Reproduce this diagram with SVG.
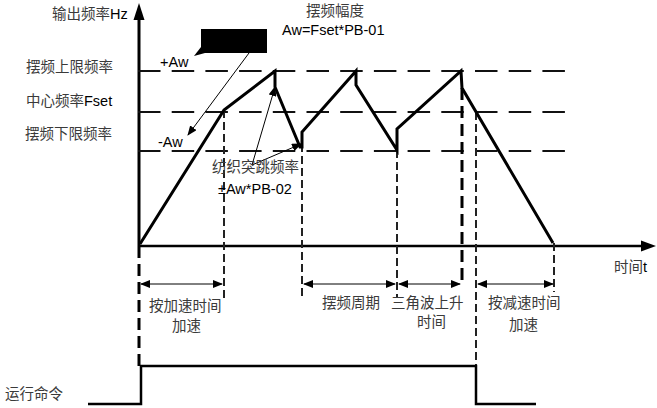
<svg xmlns="http://www.w3.org/2000/svg" width="657" height="408" viewBox="0 0 657 408">
<style>
.cn{font-family:"Noto Sans CJK SC","Liberation Sans",sans-serif;font-size:14.5px;fill:#3a3a3a}
.la{font-family:"Liberation Sans",Arial,sans-serif;font-size:14.5px;fill:#000}
.hd{fill:none;stroke:#111;stroke-width:2;stroke-dasharray:22.5 11.2}
.vthick{fill:none;stroke:#000;stroke-width:3;stroke-dasharray:12 6}
.vthin{fill:none;stroke:#222;stroke-width:2;stroke-dasharray:8 4}
.thin{fill:none;stroke:#000;stroke-width:1}
.wave{fill:none;stroke:#000;stroke-width:3;stroke-linejoin:miter}
</style>
<defs>
<marker id="ah" markerWidth="10" markerHeight="8" refX="9" refY="4" orient="auto" markerUnits="userSpaceOnUse">
<path d="M0,0 L10,4 L0,8 Z" fill="#000"/>
</marker>
<marker id="ahs" markerWidth="10" markerHeight="8" refX="1" refY="4" orient="auto" markerUnits="userSpaceOnUse">
<path d="M10,0 L0,4 L10,8 Z" fill="#000"/>
</marker>
</defs>
<g id="axes">
<line x1="139" y1="246" x2="139" y2="18" stroke="#000" stroke-width="3"/>
<path d="M139,3 L144.5,20 L133.5,20 Z" fill="#000"/>
<line x1="139" y1="246" x2="643" y2="246" stroke="#000" stroke-width="2.5"/>
<path d="M656,246 L641,240.5 L641,251.5 Z" fill="#000"/>
</g>
<g id="levels">
<line class="hd" x1="138" y1="71" x2="566" y2="71"/>
<line class="hd" x1="138" y1="112" x2="566" y2="112"/>
<line class="hd" x1="138" y1="151" x2="566" y2="151"/>
</g>
<g id="connectors">
<line class="vthick" x1="139" y1="246" x2="139" y2="366"/>
<line class="vthick" x1="462" y1="88" x2="462" y2="286"/>
<line class="vthin" x1="224" y1="110" x2="224" y2="298"/>
<line class="vthin" x1="302" y1="132" x2="302" y2="298"/>
<line class="vthin" x1="397" y1="150" x2="397" y2="298"/>
<line class="vthin" x1="476" y1="112" x2="476" y2="366"/>
<line class="vthin" x1="554" y1="243" x2="554" y2="292"/>
<line class="thin" x1="141" y1="284" x2="222" y2="284" marker-start="url(#ahs)" marker-end="url(#ah)"/>
<line class="thin" x1="304" y1="284" x2="395" y2="284" marker-start="url(#ahs)" marker-end="url(#ah)"/>
<line class="thin" x1="399" y1="284" x2="460" y2="284" marker-start="url(#ahs)" marker-end="url(#ah)"/>
<line class="thin" x1="478" y1="284" x2="553" y2="284" marker-start="url(#ahs)" marker-end="url(#ah)"/>
<line class="thin" x1="249" y1="53" x2="188" y2="135" marker-end="url(#ah)"/>
<line class="thin" x1="252" y1="165" x2="275" y2="87" marker-end="url(#ah)"/>
<line class="thin" x1="252" y1="165" x2="301" y2="144" marker-end="url(#ah)"/>
</g>
<g id="waveform">
<polyline class="wave" points="140,244 224,110 275,71 275,87 300,147 302,147 302,132 356,71 356,85 397,150 397,129 461,71 462,88 553,243"/>
</g>
<g id="callout">
<rect x="201" y="29" width="66" height="24" fill="#000"/>
<path d="M201,47 L205,53 L194,56 Z" fill="#000"/>
</g>
<g id="run-command">
<polyline points="88,404 141,404 141,366 476,366 476,404 536,404" fill="none" stroke="#000" stroke-width="2.5"/>
</g>
<g id="labels">
<text class="cn" x="52" y="19">输出频率<tspan class="la">Hz</tspan></text>
<text class="cn" x="26" y="72">摆频上限频率</text>
<text class="cn" x="26" y="106">中心频率<tspan class="la">Fset</tspan></text>
<text class="cn" x="25" y="139">摆频下限频率</text>
<text class="la" x="160" y="67">+Aw</text>
<text class="la" x="158" y="147">-Aw</text>
<text class="cn" x="306" y="16">摆频幅度</text>
<text class="la" x="282" y="35">Aw=Fset*PB-01</text>
<text class="cn" x="212" y="172">纺织突跳频率</text>
<text class="la" x="218" y="194">±Aw*PB-02</text>
<text class="cn" x="614" y="272">时间<tspan class="la">t</tspan></text>
<text class="cn" x="149" y="311">按加速时间</text>
<text class="cn" x="172" y="331">加速</text>
<text class="cn" x="322" y="308">摆频周期</text>
<text class="cn" x="391" y="308">三角波上升</text>
<text class="cn" x="417" y="327">时间</text>
<text class="cn" x="488" y="308">按减速时间</text>
<text class="cn" x="509" y="330">加速</text>
<text class="cn" x="5" y="399">运行命令</text>
</g>
</svg>
